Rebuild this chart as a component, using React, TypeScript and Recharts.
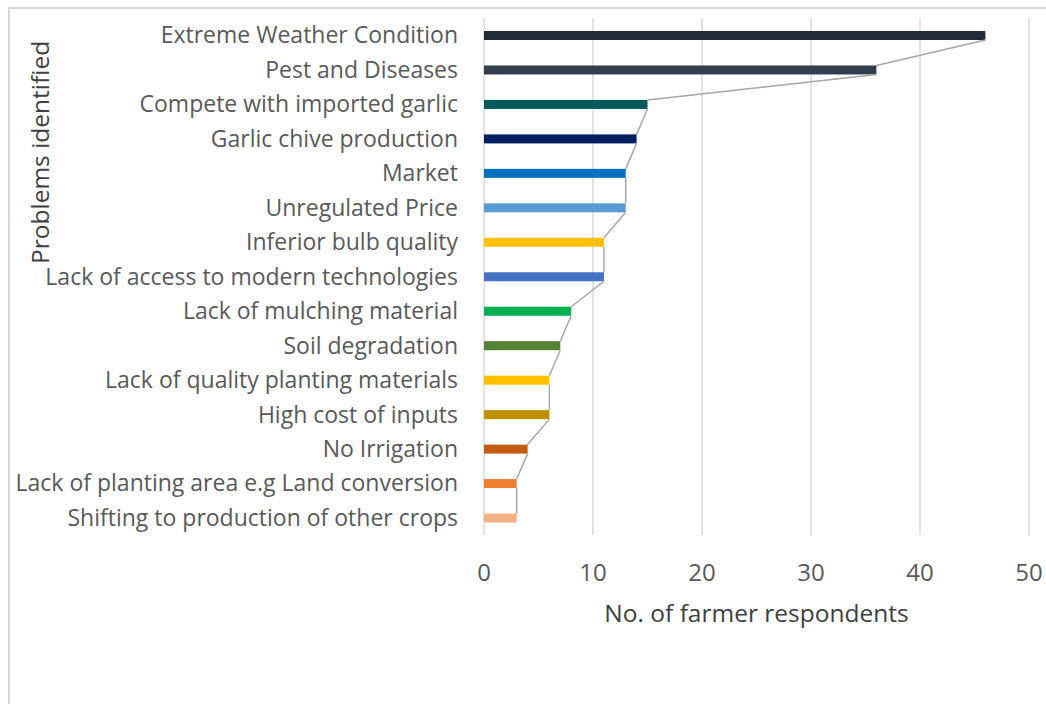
import { BarChart, Bar, XAxis, YAxis, CartesianGrid, Cell } from "recharts";

// problems as listed top to bottom
const problems = [
  "Extreme Weather Condition",
  "Pest and Diseases",
  "Compete with imported garlic",
  "Garlic chive production",
  "Market",
  "Unregulated Price",
  "Inferior bulb quality",
  "Lack of access to modern technologies",
  "Lack of mulching material",
  "Soil degradation",
  "Lack of quality planting materials",
  "High cost of inputs",
  "No Irrigation",
  "Lack of planting area e.g Land conversion",
  "Shifting to production of other crops",
];

const respondents = [46, 36, 15, 14, 13, 13, 11, 11, 8, 7, 6, 6, 4, 3, 3];

const barColors = [
  "#222A35",
  "#333F50",
  "#005A5B",
  "#002060",
  "#0070C0",
  "#5B9BD5",
  "#FFC000",
  "#4472C4",
  "#00B050",
  "#548235",
  "#FFC000",
  "#BF9000",
  "#C55A11",
  "#ED7D31",
  "#F4B183",
];

const xTicks = [0, 10, 20, 30, 40, 50];

const CHART_W = 1046;
const CHART_H = 704;
const MARGIN = { top: 18, right: 17, bottom: 79, left: 10 };
const X_AXIS_H = 90;
const Y_AXIS_W = 474;
const PLOT_H = CHART_H - MARGIN.top - MARGIN.bottom - X_AXIS_H;

const FONT = "'Open Sans', 'Noto Sans', sans-serif";

const chartData = problems.map((problem, i) => ({
  problem,
  count: respondents[i],
  next: i + 1 < respondents.length ? respondents[i + 1] : null,
}));

// bar plus the excel-style series line down to the next bar's end
const BarWithSeriesLine = (props: any) => {
  const { x, y, width, height, fill, payload } = props;
  const step = PLOT_H / problems.length;
  const hasNext = payload && payload.next != null && payload.count > 0;
  const nextWidth = hasNext ? (width * payload.next) / payload.count : 0;
  return (
    <g>
      <rect x={x} y={y} width={width} height={height} fill={fill} />
      {hasNext && (
        <line
          x1={x + width}
          y1={y + height}
          x2={x + nextWidth}
          y2={y + step}
          stroke="#A6A6A6"
          strokeWidth={1.5}
        />
      )}
    </g>
  );
};

const YTitle = ({ viewBox }: any) => {
  const cx = viewBox.x + 30;
  const cy = viewBox.y + viewBox.height * 0.26;
  return (
    <text
      x={cx}
      y={cy}
      transform={`rotate(-90, ${cx}, ${cy})`}
      textAnchor="middle"
      dominantBaseline="central"
      fill="#404040"
      fontSize={24.5}
      fontFamily={FONT}
    >
      Problems identified
    </text>
  );
};

export default function App() {
  return (
    <div style={{ position: "absolute", left: 0, top: 0, width: CHART_W, height: CHART_H, background: "#fff" }}>
      <div
        style={{
          position: "absolute",
          left: 8,
          top: 7,
          width: CHART_W - 8,
          height: CHART_H - 7,
          borderLeft: "2px solid #D9D9D9",
          borderTop: "2px solid #D9D9D9",
          boxSizing: "border-box",
        }}
      />
      <div style={{ position: "absolute", left: 0, top: 0 }}>
        <BarChart
          width={CHART_W}
          height={CHART_H}
          data={chartData}
          layout="vertical"
          margin={MARGIN}
        >
          <CartesianGrid horizontal={false} stroke="#D9D9D9" strokeWidth={1.5} />
          <XAxis
            type="number"
            domain={[0, 50]}
            ticks={xTicks}
            interval={0}
            axisLine={false}
            tickLine={false}
            tickSize={0}
            tickMargin={29}
            height={X_AXIS_H}
            tick={{ fontSize: 24, fill: "#595959", fontFamily: FONT }}
            label={{
              value: "No. of farmer respondents",
              position: "insideBottom",
              offset: 3.5,
              fill: "#404040",
              fontSize: 24.5,
              fontFamily: FONT,
            }}
          />
          <YAxis
            type="category"
            dataKey="problem"
            width={Y_AXIS_W}
            interval={0}
            axisLine={false}
            tickLine={false}
            tickSize={0}
            tickMargin={26}
            tick={{ fontSize: 23, fill: "#595959", fontFamily: FONT }}
            label={<YTitle />}
          />
          <Bar
            dataKey="count"
            barSize={9}
            isAnimationActive={false}
            shape={<BarWithSeriesLine />}
          >
            {chartData.map((d, i) => (
              <Cell key={d.problem} fill={barColors[i]} />
            ))}
          </Bar>
        </BarChart>
      </div>
    </div>
  );
}
